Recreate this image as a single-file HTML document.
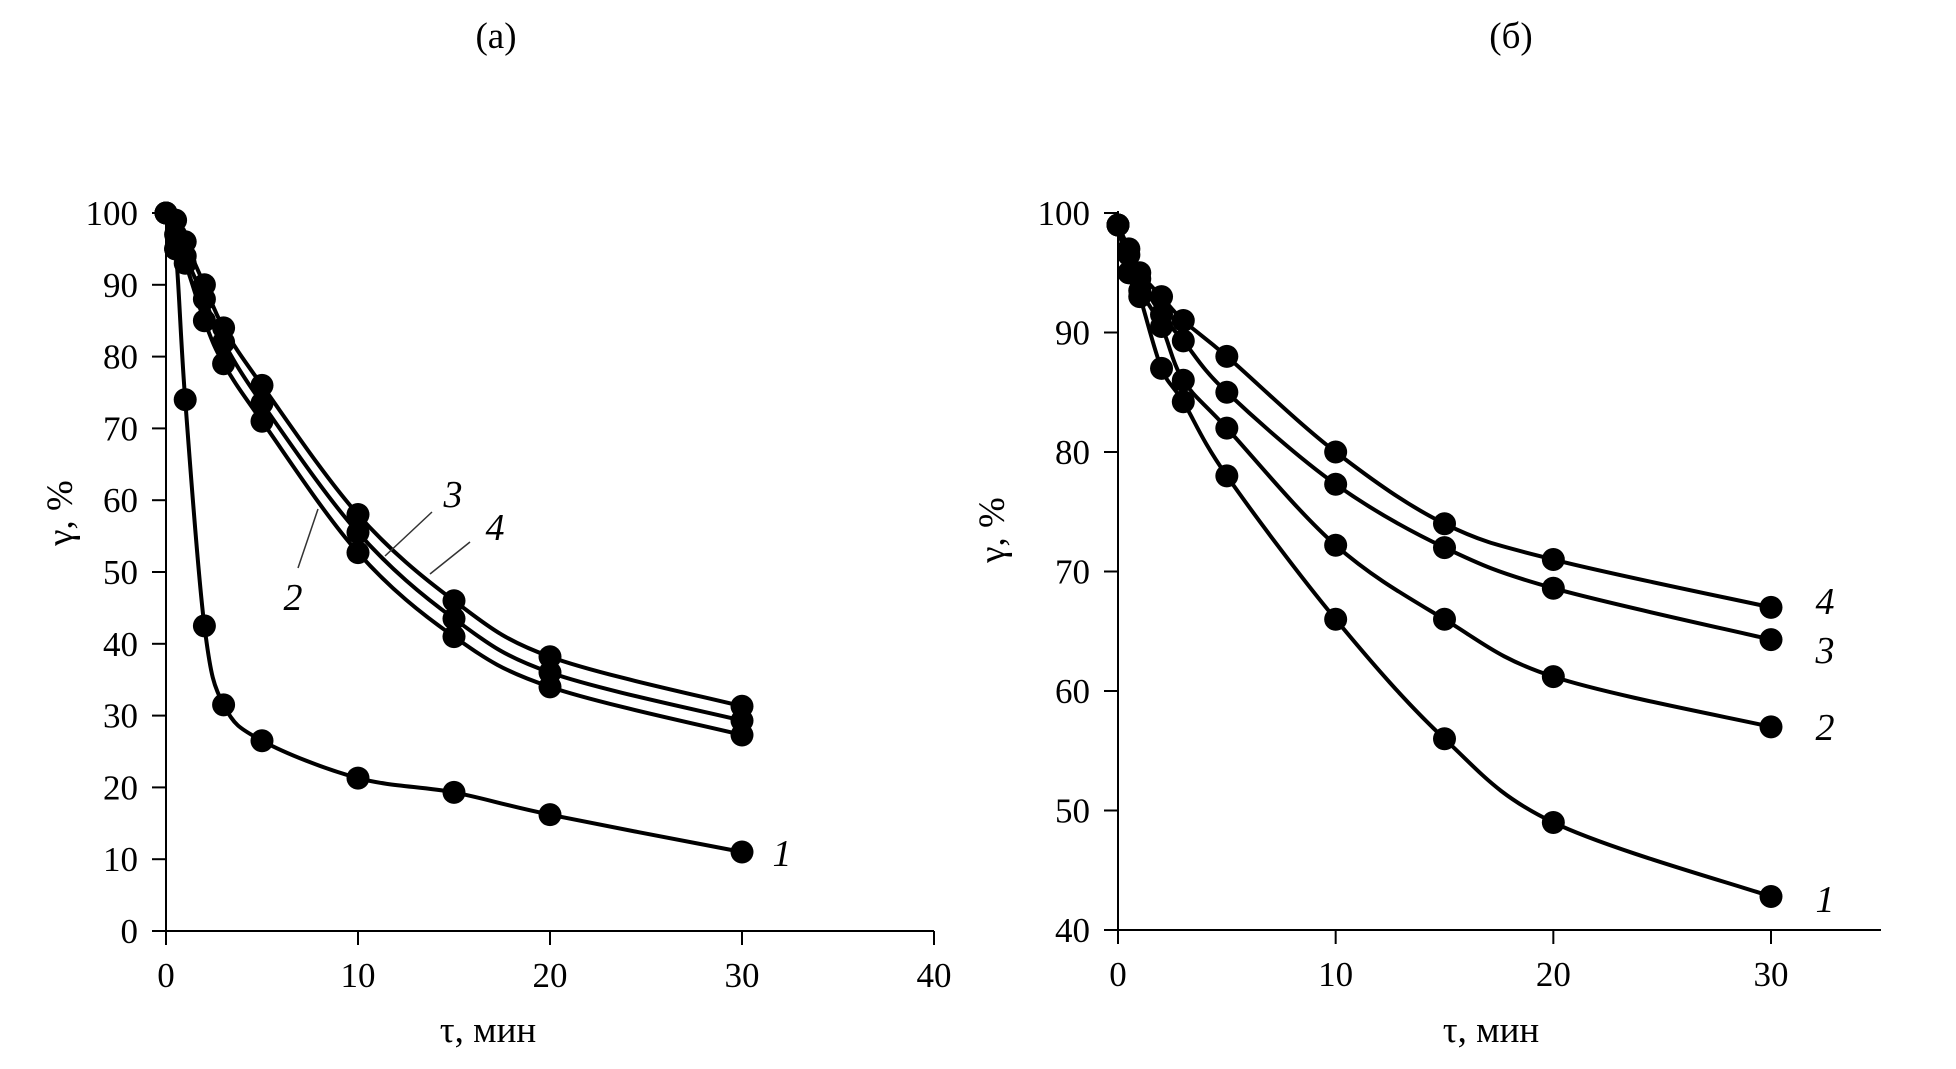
<!DOCTYPE html>
<html><head><meta charset="utf-8">
<style>
html,body{margin:0;padding:0;background:#fff;}
svg{display:block;}
text{font-family:"Liberation Serif",serif;fill:#000;}
</style></head>
<body>
<svg id="chart" width="1956" height="1069" viewBox="0 0 1956 1069" xmlns="http://www.w3.org/2000/svg">
<text x="496" y="48" font-size="37" text-anchor="middle">(a)</text>
<text x="1511" y="48" font-size="37" text-anchor="middle">(б)</text>
<g id="pa"></g>
<g id="pb"></g>
</svg>
<script>
const timesA = [0, 0.5, 1, 2, 3, 5, 10, 15, 20, 30];
const seriesA1 = [100, 95, 74, 42.5, 31.5, 26.5, 21.3, 19.3, 16.2, 11];
const seriesA2 = [100, 95, 93, 85, 79, 71, 52.7, 41, 34, 27.3];
const seriesA3 = [100, 97, 94, 88, 82, 73.5, 55.5, 43.5, 36, 29.3];
const seriesA4 = [100, 99, 96, 90, 84, 76, 58, 46, 38.2, 31.3];
const xTicksA = [0, 10, 20, 30, 40];
const yTicksA = [0, 10, 20, 30, 40, 50, 60, 70, 80, 90, 100];

const timesB = [0, 0.5, 1, 2, 3, 5, 10, 15, 20, 30];
const seriesB1 = [99, 95, 93, 87, 84.2, 78, 66, 56, 49, 42.8];
const seriesB2 = [99, 95, 93.5, 90.5, 86, 82, 72.2, 66, 61.2, 57];
const seriesB3 = [99, 96.5, 94.5, 91.5, 89.3, 85, 77.3, 72, 68.6, 64.3];
const seriesB4 = [99, 97, 95, 93, 91, 88, 80, 74, 71, 67];
const xTicksB = [0, 10, 20, 30];
const yTicksB = [40, 50, 60, 70, 80, 90, 100];

const NS = "http://www.w3.org/2000/svg";
function mk(parent, tag, attrs, txt){
  const e = document.createElementNS(NS, tag);
  for (const k in attrs) e.setAttribute(k, attrs[k]);
  if (txt !== undefined) e.textContent = txt;
  parent.appendChild(e);
  return e;
}
function smoothPath(pts){
  let d = "M" + pts[0][0] + "," + pts[0][1];
  for (let i = 0; i < pts.length - 1; i++){
    const p0 = pts[Math.max(0, i - 1)], p1 = pts[i], p2 = pts[i + 1], p3 = pts[Math.min(pts.length - 1, i + 2)];
    const t = 0.17;
    const c1x = p1[0] + (p2[0] - p0[0]) * t, c1y = p1[1] + (p2[1] - p0[1]) * t;
    const c2x = p2[0] - (p3[0] - p1[0]) * t, c2y = p2[1] - (p3[1] - p1[1]) * t;
    d += " C" + c1x + "," + c1y + " " + c2x + "," + c2y + " " + p2[0] + "," + p2[1];
  }
  return d;
}
function panel(g, cfg){
  const sx = v => cfg.x0 + (v - cfg.xmin) / (cfg.xmax - cfg.xmin) * (cfg.x1 - cfg.x0);
  const sy = v => cfg.y0 - (v - cfg.ymin) / (cfg.ymax - cfg.ymin) * (cfg.y0 - cfg.y1);
  const ax = mk(g, "path", {d: "M" + cfg.x0 + "," + (cfg.y1 - 2) + " V" + cfg.y0 + " H" + cfg.xend, stroke: "#000", "stroke-width": 2, fill: "none"});
  
  
  cfg.xt.forEach(v => {
    const l = mk(g, "line", {x1: sx(v), x2: sx(v), y1: cfg.y0, y2: cfg.y0 + 14, stroke: "#000", "stroke-width": 2});
    
    
    const t = mk(g, "text", {x: sx(v), y: cfg.y0 + 56, "font-size": 35, "text-anchor": "middle"}, v);
    
    
  });
  cfg.yt.forEach(v => {
    const l = mk(g, "line", {x1: cfg.x0 - 14, x2: cfg.x0, y1: sy(v), y2: sy(v), stroke: "#000", "stroke-width": 2});
    
    
    const t = mk(g, "text", {x: cfg.x0 - 28, y: sy(v) + 12, "font-size": 35, "text-anchor": "end"}, v);
    
    
  });
  const xt = mk(g, "text", {x: cfg.xtx, y: 1042, "font-size": 37, "text-anchor": "middle"}, "τ, мин");
  
  
  const yt = mk(g, "text", {x: 0, y: 0, "font-size": 37, "text-anchor": "middle", transform: "translate(" + cfg.ytx + "," + cfg.yty + ") rotate(-90)"}, "γ, %");
  
  
  cfg.series.forEach((s, si) => {
    const pts = cfg.times.map((t, i) => [sx(t), sy(s[i])]);
    const p = mk(g, "path", {d: smoothPath(pts), stroke: "#000", "stroke-width": 4, fill: "none"});
    
    
    pts.forEach(q => {
      const c = mk(g, "circle", {cx: q[0], cy: q[1], r: 11.5, fill: "#000"});
      
      
    });
  });
}
panel(document.getElementById("pa"), {x0:166, x1:934, xend:934, xmin:0, xmax:40, y0:931, y1:213, ymin:0, ymax:100,
  xt:xTicksA, yt:yTicksA, times:timesA, series:[seriesA1, seriesA2, seriesA3, seriesA4], xtx:488, ytx:72, yty:513});
panel(document.getElementById("pb"), {x0:1118, x1:1771, xend:1881, xmin:0, xmax:30, y0:930, y1:213, ymin:40, ymax:100,
  xt:xTicksB, yt:yTicksB, times:timesB, series:[seriesB1, seriesB2, seriesB3, seriesB4], xtx:1491, ytx:1004, yty:530});

const ga = document.getElementById("pa"), gb = document.getElementById("pb");
const labs = [
  [ga, 782, 866, "1"], [ga, 293, 610, "2"], [ga, 453, 507, "3"], [ga, 495, 540, "4"],
  [gb, 1825, 912, "1"], [gb, 1825, 740, "2"], [gb, 1825, 663, "3"], [gb, 1825, 614, "4"]
];
labs.forEach(l => {
  const t = mk(l[0], "text", {x: l[1], y: l[2], "font-size": 38, "font-style": "italic", "text-anchor": "middle"}, l[3]);
  
  
});
[[432,512,385,556],[470,542,430,574],[318,509,298,568]].forEach(a => {
  const l = mk(ga, "line", {x1:a[0], y1:a[1], x2:a[2], y2:a[3], stroke:"#333", "stroke-width":1.5});
  
  
});
</script>
</body></html>
